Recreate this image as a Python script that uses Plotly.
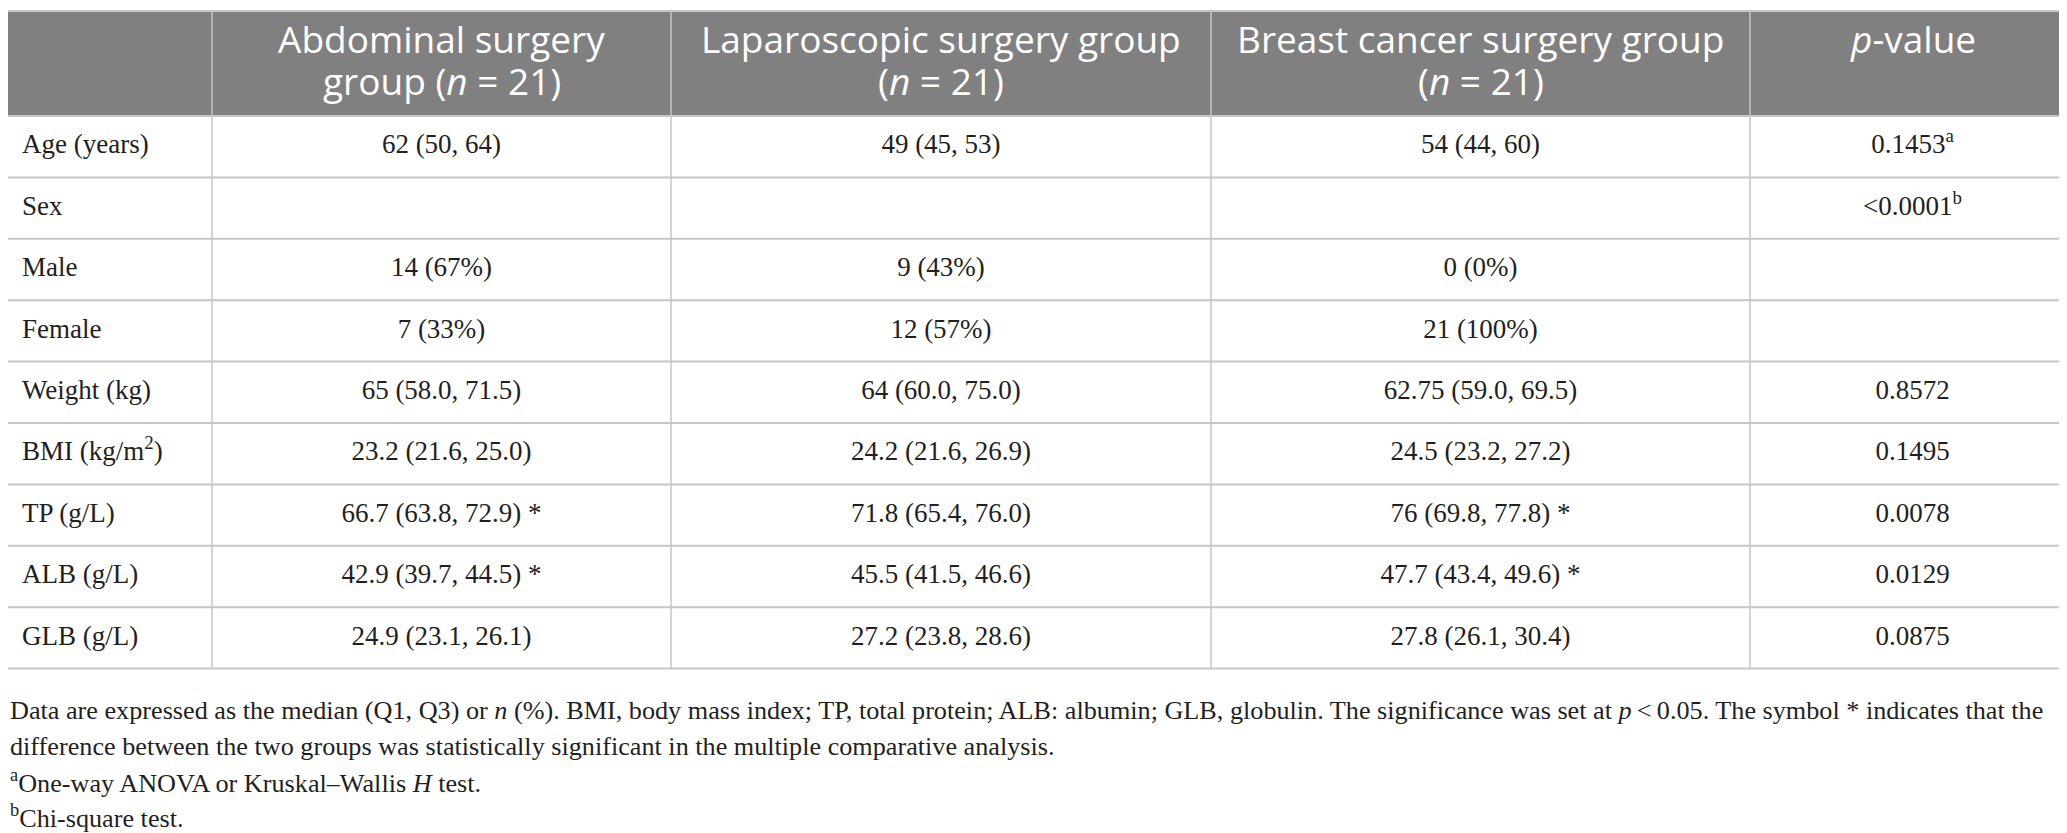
import plotly.graph_objects as go

# table content
headers = ["",
           "Abdominal surgery<br>group (<i>n</i> = 21)",
           "Laparoscopic surgery group<br>(<i>n</i> = 21)",
           "Breast cancer surgery group<br>(<i>n</i> = 21)",
           "<i>p</i>-value"]
row_labels = ["Age (years)", "Sex", "Male", "Female", "Weight (kg)",
              "BMI (kg/m<sup>2</sup>)", "TP (g/L)", "ALB (g/L)", "GLB (g/L)"]
abdominal = ["62 (50, 64)", "", "14 (67%)", "7 (33%)", "65 (58.0, 71.5)",
             "23.2 (21.6, 25.0)", "66.7 (63.8, 72.9) *", "42.9 (39.7, 44.5) *", "24.9 (23.1, 26.1)"]
laparoscopic = ["49 (45, 53)", "", "9 (43%)", "12 (57%)", "64 (60.0, 75.0)",
                "24.2 (21.6, 26.9)", "71.8 (65.4, 76.0)", "45.5 (41.5, 46.6)", "27.2 (23.8, 28.6)"]
breast = ["54 (44, 60)", "", "0 (0%)", "21 (100%)", "62.75 (59.0, 69.5)",
          "24.5 (23.2, 27.2)", "76 (69.8, 77.8) *", "47.7 (43.4, 49.6) *", "27.8 (26.1, 30.4)"]
p_values = ["0.1453<sup>a</sup>", "&lt;0.0001<sup>b</sup>", "", "", "0.8572",
            "0.1495", "0.0078", "0.0129", "0.0875"]
footnotes = [
    "Data are expressed as the median (Q1, Q3) or <i>n</i> (%). BMI, body mass index; TP, total protein; "
    "ALB: albumin; GLB, globulin. The significance was set at <i>p</i>\u2009&lt;\u20090.05. The symbol * indicates that the",
    "difference between the two groups was statistically significant in the multiple comparative analysis.",
    "<sup>a</sup>One-way ANOVA or Kruskal–Wallis <i>H</i> test.",
    "<sup>b</sup>Chi-square test.",
]

# geometry (pixel units on the hidden axes)
W, H = 2067, 833
col_edges = [0, 204, 663, 1203, 1742, 2067]
header_top, header_bottom = 3, 108
row_h = 61.4
head_line_y = [30, 72]
foot_y = [702, 738, 773, 808]

SERIF = "Liberation Serif"
SANS = "Open Sans"
TXT = "#231f20"
GRID = "#c6c6c6"
HEAD_BG = "#808080"

fig = go.Figure()

n = len(row_labels)
row_y = [header_bottom + (i + 0.5) * row_h for i in range(n)]
table_bottom = header_bottom + n * row_h


def add_column(texts, x, pos):
    keep = [i for i, t in enumerate(texts) if t]
    fig.add_trace(go.Scatter(
        x=[x] * len(keep), y=[row_y[i] for i in keep], text=[texts[i] for i in keep],
        mode="text", textposition=pos,
        textfont=dict(family=SERIF, size=27, color=TXT),
        hoverinfo="skip", showlegend=False))


# first column left aligned, the rest centred
add_column(row_labels, col_edges[0] + 14, "middle right")
for j, col in enumerate([abdominal, laparoscopic, breast, p_values], start=1):
    add_column(col, (col_edges[j] + col_edges[j + 1]) / 2, "middle center")

shapes = []
# header background
shapes.append(dict(type="rect", x0=0, x1=W, y0=header_top, y1=header_bottom,
                   fillcolor=HEAD_BG, line=dict(width=0), layer="below"))
# horizontal rules
for yv in [header_top, header_bottom] + [header_bottom + (i + 1) * row_h for i in range(n)]:
    shapes.append(dict(type="line", x0=0, x1=W, y0=yv, y1=yv, line=dict(color=GRID, width=2)))
# vertical rules
for xv in col_edges[1:-1]:
    shapes.append(dict(type="line", x0=xv, x1=xv, y0=header_top, y1=table_bottom,
                       line=dict(color=GRID, width=1.5)))

annotations = []
for j, h in enumerate(headers):
    if not h:
        continue
    cx = (col_edges[j] + col_edges[j + 1]) / 2
    for k, line in enumerate(h.split("<br>")):
        annotations.append(dict(x=cx, y=head_line_y[k], text=line, showarrow=False,
                                xanchor="center", yanchor="middle",
                                font=dict(family=SANS, size=37, color="white")))
for t, yv in zip(footnotes, foot_y):
    annotations.append(dict(x=0, y=yv, text=t, showarrow=False, xanchor="left",
                            yanchor="middle", align="left",
                            font=dict(family=SERIF, size=26.2, color=TXT)))

fig.update_layout(
    width=W, height=H,
    margin=dict(l=0, r=0, t=0, b=0),
    paper_bgcolor="white", plot_bgcolor="white",
    xaxis=dict(range=[0, W], visible=False, fixedrange=True),
    yaxis=dict(range=[H, 0], visible=False, fixedrange=True),
    shapes=shapes, annotations=annotations,
)

fig.write_html("out.html")
